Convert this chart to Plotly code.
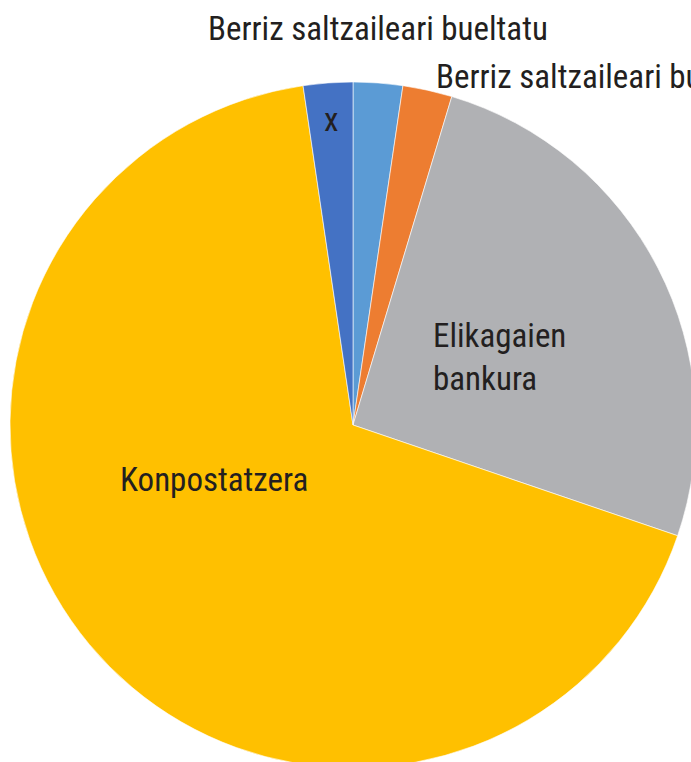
import plotly.graph_objects as go

categories = ["Berriz saltzaileari bueltatu", "Berriz saltzaileari bueltatu ",
              "Elikagaien bankura", "Konpostatzera", "x"]
values = [1, 1, 11, 29, 1]
colors = ["#5B9BD5", "#ED7D31", "#B0B1B4", "#FFC000", "#4472C4"]

W, H = 700, 770
L, R, T, B = 10, 4, 82, 2

fig = go.Figure(go.Pie(
    labels=categories,
    values=values,
    sort=False,
    direction="clockwise",
    rotation=0,
    textinfo="none",
    hoverinfo="label+value+percent",
    marker=dict(colors=colors, line=dict(color="white", width=0.6)),
    showlegend=False,
))

FONT = dict(family="Liberation Sans Narrow, Arial Narrow, Roboto Condensed, sans-serif",
            size=33, color="#231F20")

def px(x, y):
    return (x - L) / (W - L - R), 1 - (y - T) / (H - T - B)

labels_pos = [
    ("Berriz saltzaileari bueltatu", 378, 28, "center"),
    ("Berriz saltzaileari bueltatu", 434, 77, "left"),
    ("Elikagaien<br>bankura", 431, 357, "left"),
    ("Konpostatzera", 118, 479, "left"),
    ("x", 331, 120, "center"),
]
ann = []
for text, x, y, anchor in labels_pos:
    ax, ay = px(x, y)
    ann.append(dict(text=text, x=ax, y=ay, xref="paper", yref="paper",
                    xanchor=anchor, yanchor="middle", align="left",
                    showarrow=False, font=FONT))

fig.update_layout(
    width=W, height=H,
    margin=dict(l=L, r=R, t=T, b=B),
    paper_bgcolor="white",
    annotations=ann,
)

fig.write_html("out.html", config={"displayModeBar": False},
               post_script="document.body.style.margin='0';document.body.style.overflow='hidden';")
